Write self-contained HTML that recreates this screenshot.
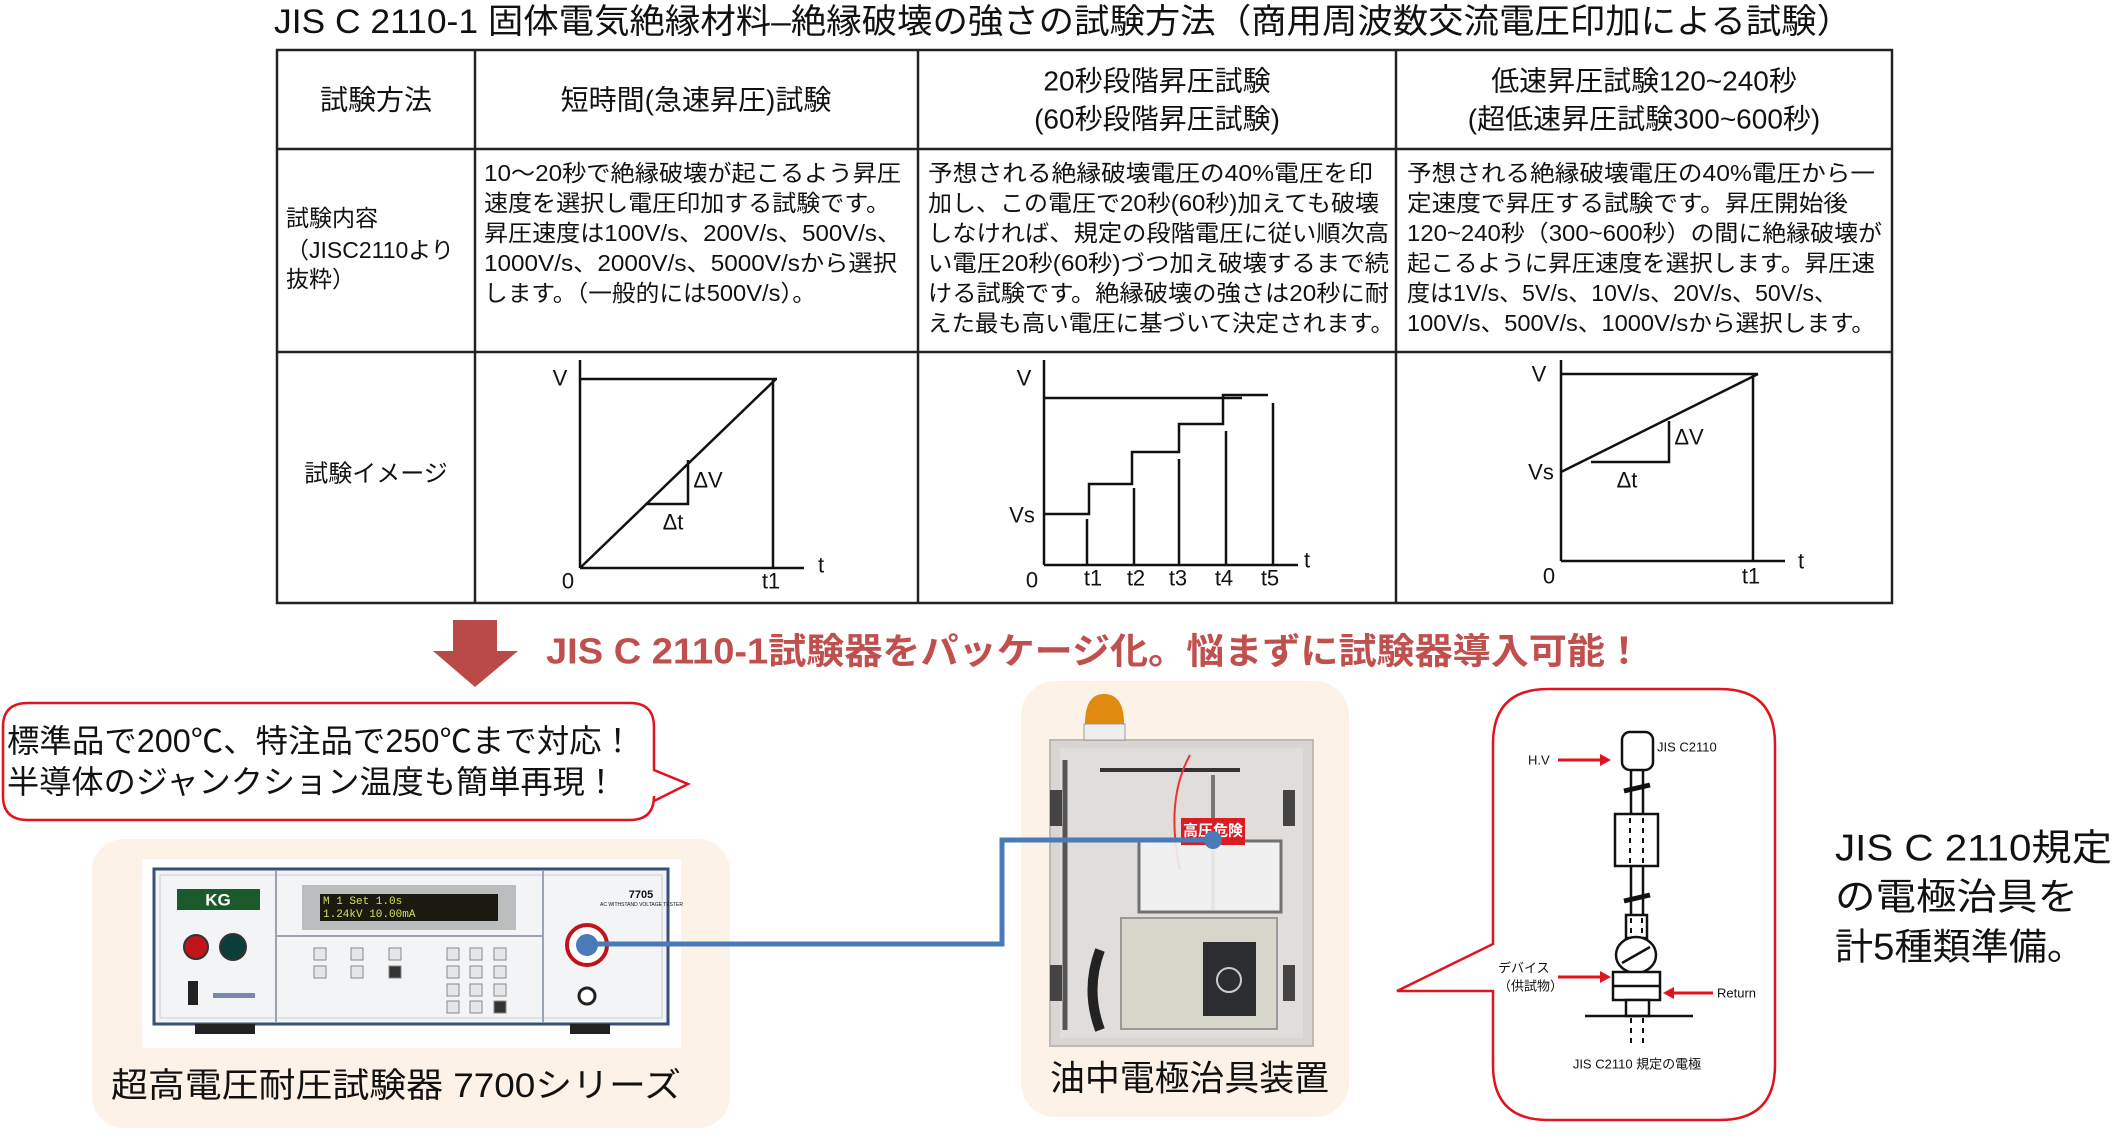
<!DOCTYPE html>
<html><head><meta charset="utf-8"><style>
html,body{margin:0;padding:0;background:#fff;}
svg{display:block;}
text{font-family:"Liberation Sans","Noto Sans CJK JP",sans-serif;fill:#111;}
</style></head><body>
<svg width="2115" height="1144" viewBox="0 0 2115 1144" xmlns="http://www.w3.org/2000/svg">
<!-- Title -->
<text x="274" y="22" font-size="34" dominant-baseline="central" textLength="1578" lengthAdjust="spacingAndGlyphs">JIS C 2110-1 固体電気絶縁材料–絶縁破壊の強さの試験方法（商用周波数交流電圧印加による試験）</text>

<!-- Table -->
<g stroke="#222" stroke-width="2.5" fill="none">
<rect x="277" y="50" width="1615" height="553"/>
<line x1="277" y1="149" x2="1892" y2="149"/>
<line x1="277" y1="352" x2="1892" y2="352"/>
<line x1="475" y1="50" x2="475" y2="603"/>
<line x1="918" y1="50" x2="918" y2="603"/>
<line x1="1396" y1="50" x2="1396" y2="603"/>
</g>
<g font-size="28" text-anchor="middle" dominant-baseline="central">
<text x="376" y="100" dominant-baseline="central">試験方法</text>
<text x="696" y="100" dominant-baseline="central">短時間(急速昇圧)試験</text>
<text x="1157" y="81" dominant-baseline="central">20秒段階昇圧試験</text>
<text x="1157" y="119" dominant-baseline="central">(60秒段階昇圧試験)</text>
<text x="1644" y="81" dominant-baseline="central">低速昇圧試験120~240秒</text>
<text x="1644" y="119" dominant-baseline="central">(超低速昇圧試験300~600秒)</text>
</g>
<g font-size="23" lengthAdjust="spacingAndGlyphs">
<text x="286" y="218" dominant-baseline="central">試験内容</text>
<text x="286" y="250" dominant-baseline="central">（JISC2110より</text>
<text x="286" y="279" dominant-baseline="central">抜粋）</text>

<text x="484" y="173" dominant-baseline="central" textLength="417" lengthAdjust="spacingAndGlyphs">10～20秒で絶縁破壊が起こるよう昇圧</text>
<text x="484" y="203" dominant-baseline="central" textLength="406" lengthAdjust="spacingAndGlyphs">速度を選択し電圧印加する試験です。</text>
<text x="484" y="233" dominant-baseline="central" textLength="417" lengthAdjust="spacingAndGlyphs">昇圧速度は100V/s、200V/s、500V/s、</text>
<text x="484" y="263" dominant-baseline="central" textLength="413" lengthAdjust="spacingAndGlyphs">1000V/s、2000V/s、5000V/sから選択</text>
<text x="484" y="293" dominant-baseline="central" textLength="332" lengthAdjust="spacingAndGlyphs">します。（一般的には500V/s）。</text>

<text x="928" y="173" dominant-baseline="central" textLength="445" lengthAdjust="spacingAndGlyphs">予想される絶縁破壊電圧の40%電圧を印</text>
<text x="928" y="203" dominant-baseline="central" textLength="451" lengthAdjust="spacingAndGlyphs">加し、この電圧で20秒(60秒)加えても破壊</text>
<text x="928" y="233" dominant-baseline="central" textLength="461" lengthAdjust="spacingAndGlyphs">しなければ、規定の段階電圧に従い順次高</text>
<text x="928" y="263" dominant-baseline="central" textLength="461" lengthAdjust="spacingAndGlyphs">い電圧20秒(60秒)づつ加え破壊するまで続</text>
<text x="928" y="293" dominant-baseline="central" textLength="461" lengthAdjust="spacingAndGlyphs">ける試験です。絶縁破壊の強さは20秒に耐</text>
<text x="928" y="323" dominant-baseline="central" textLength="466" lengthAdjust="spacingAndGlyphs">えた最も高い電圧に基づいて決定されます。</text>

<text x="1407" y="173" dominant-baseline="central" textLength="468" lengthAdjust="spacingAndGlyphs">予想される絶縁破壊電圧の40%電圧から一</text>
<text x="1407" y="203" dominant-baseline="central" textLength="441" lengthAdjust="spacingAndGlyphs">定速度で昇圧する試験です。昇圧開始後</text>
<text x="1407" y="233" dominant-baseline="central" textLength="475" lengthAdjust="spacingAndGlyphs">120~240秒（300~600秒）の間に絶縁破壊が</text>
<text x="1407" y="263" dominant-baseline="central" textLength="468" lengthAdjust="spacingAndGlyphs">起こるように昇圧速度を選択します。昇圧速</text>
<text x="1407" y="293" dominant-baseline="central" textLength="430" lengthAdjust="spacingAndGlyphs">度は1V/s、5V/s、10V/s、20V/s、50V/s、</text>
<text x="1407" y="323" dominant-baseline="central" textLength="468" lengthAdjust="spacingAndGlyphs">100V/s、500V/s、1000V/sから選択します。</text>
</g>
<text x="376" y="474" font-size="24" text-anchor="middle" dominant-baseline="central">試験イメージ</text>

<!-- Graph 1 -->
<g stroke="#111" stroke-width="2.5" fill="none">
<line x1="580" y1="360" x2="580" y2="568"/>
<line x1="580" y1="379" x2="777" y2="379"/>
<line x1="580" y1="568" x2="804" y2="568"/>
<line x1="580" y1="568" x2="776" y2="379"/>
<line x1="773" y1="379" x2="773" y2="568"/>
<polyline points="646,504 688,504 688,460"/>
</g>
<g font-size="22" dominant-baseline="central" text-anchor="middle">
<text x="560" y="378" dominant-baseline="central">V</text>
<text x="821" y="565" dominant-baseline="central">t</text>
<text x="568" y="581" dominant-baseline="central">0</text>
<text x="771" y="581" dominant-baseline="central">t1</text>
<text x="708" y="480" dominant-baseline="central">ΔV</text>
<text x="673" y="522" dominant-baseline="central">Δt</text>
</g>

<!-- Graph 2 -->
<g stroke="#111" stroke-width="2.5" fill="none">
<line x1="1044" y1="360" x2="1044" y2="565"/>
<line x1="1044" y1="398" x2="1242" y2="398"/>
<line x1="1044" y1="565" x2="1298" y2="565"/>
<polyline points="1044,514 1089,514 1089,484 1132,484 1132,452 1179,452 1179,424 1223,424 1223,395 1268,395"/>
<line x1="1087" y1="519" x2="1087" y2="565"/>
<line x1="1134" y1="488" x2="1134" y2="565"/>
<line x1="1179" y1="459" x2="1179" y2="565"/>
<line x1="1226" y1="431" x2="1226" y2="565"/>
<line x1="1273" y1="403" x2="1273" y2="565"/>
</g>
<g font-size="22" dominant-baseline="central" text-anchor="middle">
<text x="1024" y="378" dominant-baseline="central">V</text>
<text x="1022" y="515" dominant-baseline="central">Vs</text>
<text x="1307" y="560" dominant-baseline="central">t</text>
<text x="1032" y="580" dominant-baseline="central">0</text>
<text x="1093" y="578" dominant-baseline="central">t1</text>
<text x="1136" y="578" dominant-baseline="central">t2</text>
<text x="1178" y="578" dominant-baseline="central">t3</text>
<text x="1224" y="578" dominant-baseline="central">t4</text>
<text x="1270" y="578" dominant-baseline="central">t5</text>
</g>

<!-- Graph 3 -->
<g stroke="#111" stroke-width="2.5" fill="none">
<line x1="1561" y1="360" x2="1561" y2="561"/>
<line x1="1561" y1="374" x2="1758" y2="374"/>
<line x1="1561" y1="561" x2="1785" y2="561"/>
<line x1="1561" y1="472" x2="1758" y2="374"/>
<line x1="1753" y1="374" x2="1753" y2="561"/>
<polyline points="1591,462 1669,462 1669,421"/>
</g>
<g font-size="22" dominant-baseline="central" text-anchor="middle">
<text x="1539" y="374" dominant-baseline="central">V</text>
<text x="1541" y="472" dominant-baseline="central">Vs</text>
<text x="1801" y="561" dominant-baseline="central">t</text>
<text x="1549" y="576" dominant-baseline="central">0</text>
<text x="1751" y="576" dominant-baseline="central">t1</text>
<text x="1689" y="437" dominant-baseline="central">ΔV</text>
<text x="1627" y="480" dominant-baseline="central">Δt</text>
</g>

<!-- Down arrow & headline -->
<polygon points="453,620 497,620 497,651 518,651 475,687 433,651 453,651" fill="#b94a48"/>
<text x="546" y="651" font-size="36" font-weight="bold" fill="#c0504d" style="fill:#c0504d" dominant-baseline="central" textLength="1097" lengthAdjust="spacingAndGlyphs">JIS C 2110-1試験器をパッケージ化。悩まずに試験器導入可能！</text>

<!-- Callout -->
<path d="M28,703 H630 Q654,703 654,727 V770 L688,784 L654,801 V796 Q654,820 630,820 H28 Q3,820 3,796 V727 Q3,703 28,703 Z" fill="#fff" stroke="#e0141e" stroke-width="2.5"/>
<text x="7" y="741" font-size="32" dominant-baseline="central" textLength="627" lengthAdjust="spacingAndGlyphs">標準品で200℃、特注品で250℃まで対応！</text>
<text x="7" y="782" font-size="32" dominant-baseline="central" textLength="610" lengthAdjust="spacingAndGlyphs">半導体のジャンクション温度も簡単再現！</text>

<!-- Peach box 1 -->
<rect x="92" y="839" width="638" height="289" rx="32" fill="#fdf2e8"/>
<rect x="142" y="859" width="539" height="189" fill="#fff"/>
<rect x="154" y="869" width="514" height="155" fill="#f3f4f5" stroke="#3a4f78" stroke-width="3"/>
<rect x="160" y="875" width="502" height="143" fill="none" stroke="#c9ccd2" stroke-width="1"/>
<line x1="276" y1="871" x2="276" y2="1022" stroke="#9aa3b3" stroke-width="2"/>
<line x1="543" y1="871" x2="543" y2="1022" stroke="#9aa3b3" stroke-width="2"/>
<line x1="276" y1="936" x2="543" y2="936" stroke="#9aa3b3" stroke-width="2"/>
<rect x="177" y="889" width="83" height="21" fill="#1b5a2b"/>
<text x="218" y="900" font-size="17" font-weight="bold" text-anchor="middle" dominant-baseline="central" style="fill:#fff">KG</text>
<rect x="302" y="885" width="214" height="45" fill="#b9bdbe"/>
<rect x="320" y="894" width="178" height="27" fill="#1a1a10"/>
<text x="323" y="902" font-size="11" font-family="Liberation Mono" style="fill:#d8e060;font-family:'Liberation Mono',monospace" dominant-baseline="central">M 1 Set        1.0s</text>
<text x="323" y="915" font-size="11" style="fill:#d8e060;font-family:'Liberation Mono',monospace" dominant-baseline="central"> 1.24kV      10.00mA</text>
<text x="641" y="895" font-size="11" font-weight="bold" text-anchor="middle" dominant-baseline="central">7705</text>
<text x="600" y="905" font-size="5" dominant-baseline="central">AC WITHSTAND VOLTAGE TESTER</text>
<circle cx="196" cy="947" r="12" fill="#c0141a" stroke="#333" stroke-width="2"/>
<circle cx="233" cy="947" r="13" fill="#0d3d3a" stroke="#333" stroke-width="2"/>
<rect x="188" y="981" width="10" height="24" fill="#222"/>
<rect x="213" y="993" width="42" height="5" fill="#7a88a8"/>
<g fill="#e4e6e8" stroke="#888" stroke-width="1">
<rect x="314" y="948" width="12" height="12"/><rect x="351" y="948" width="12" height="12"/><rect x="389" y="948" width="12" height="12"/>
<rect x="314" y="966" width="12" height="12"/><rect x="351" y="966" width="12" height="12"/><rect x="389" y="966" width="12" height="12" fill="#333"/>
<rect x="447" y="948" width="12" height="12"/><rect x="470" y="948" width="12" height="12"/><rect x="494" y="948" width="12" height="12"/>
<rect x="447" y="966" width="12" height="12"/><rect x="470" y="966" width="12" height="12"/><rect x="494" y="966" width="12" height="12"/>
<rect x="447" y="984" width="12" height="12"/><rect x="470" y="984" width="12" height="12"/><rect x="494" y="984" width="12" height="12"/>
<rect x="447" y="1001" width="12" height="12"/><rect x="470" y="1001" width="12" height="12"/><rect x="494" y="1001" width="12" height="12" fill="#333"/>
</g>
<circle cx="587" cy="945" r="20" fill="#fff" stroke="#c0141a" stroke-width="4"/>
<circle cx="587" cy="996" r="8" fill="#fff" stroke="#222" stroke-width="3"/>
<rect x="195" y="1024" width="60" height="10" fill="#222"/>
<rect x="570" y="1024" width="40" height="10" fill="#222"/>
<text x="111" y="1086" font-size="34" dominant-baseline="central" textLength="570" lengthAdjust="spacingAndGlyphs">超高電圧耐圧試験器 7700シリーズ</text>

<!-- Peach box 2 -->
<rect x="1021" y="681" width="328" height="436" rx="34" fill="#fdf2e8"/>
<rect x="1050" y="740" width="263" height="306" fill="#d8d5d2" stroke="#bdb9b5" stroke-width="2"/>
<rect x="1060" y="748" width="243" height="290" fill="#e2dfdc" opacity="0.8"/>
<path d="M1085,724 Q1085,694 1104,694 Q1124,694 1124,724 Z" fill="#e08a10"/>
<rect x="1084" y="724" width="41" height="16" fill="#eee" stroke="#999"/>
<line x1="1065" y1="760" x2="1065" y2="1030" stroke="#555" stroke-width="5"/>
<line x1="1100" y1="770" x2="1240" y2="770" stroke="#333" stroke-width="4"/>
<path d="M1190,755 Q1165,800 1180,870" fill="none" stroke="#e33" stroke-width="2"/>
<line x1="1213" y1="775" x2="1213" y2="910" stroke="#777" stroke-width="4"/>
<rect x="1139" y="841" width="142" height="71" fill="#f3f3f3" stroke="#666" stroke-width="3" opacity="0.9"/>
<rect x="1181" y="818" width="64" height="27" fill="#d81e24"/>
<text x="1213" y="831" font-size="15" font-weight="bold" text-anchor="middle" dominant-baseline="central" style="fill:#fff">高圧危険</text>
<rect x="1121" y="918" width="156" height="111" fill="#d6d6ca" stroke="#999" stroke-width="2"/>
<rect x="1203" y="942" width="53" height="74" fill="#2b2d30"/>
<circle cx="1229" cy="980" r="12" fill="none" stroke="#ccc" stroke-width="2"/>
<rect x="1050" y="790" width="12" height="36" fill="#444"/><rect x="1050" y="965" width="12" height="36" fill="#444"/>
<rect x="1283" y="790" width="12" height="36" fill="#444"/><rect x="1283" y="965" width="12" height="36" fill="#444"/>
<path d="M1100,950 Q1085,990 1100,1030" fill="none" stroke="#222" stroke-width="10"/>
<text x="1050" y="1079" font-size="35" dominant-baseline="central" textLength="279" lengthAdjust="spacingAndGlyphs">油中電極治具装置</text>

<!-- Blue connection -->
<polyline points="587,944 1002,944 1002,840 1213,840" fill="none" stroke="#4a7ab8" stroke-width="5"/>
<circle cx="587" cy="945" r="11" fill="#4a7ab8"/>
<circle cx="1213" cy="840" r="9" fill="#4a7ab8"/>

<!-- Electrode callout -->
<path d="M1548,689 H1720 Q1775,689 1775,744 V1065 Q1775,1120 1720,1120 H1548 Q1493,1120 1493,1065 V991 H1397 L1493,944 V744 Q1493,689 1548,689 Z" fill="#fff" stroke="#e0141e" stroke-width="2.5"/>
<g stroke="#111" stroke-width="2.5" fill="#fff">
<line x1="1631" y1="770" x2="1631" y2="915"/><line x1="1643" y1="770" x2="1643" y2="915"/>
<rect x="1622" y="732" width="31" height="38" rx="8"/>
<rect x="1615" y="814" width="43" height="52"/>
<rect x="1626" y="915" width="21" height="23"/>
<ellipse cx="1636" cy="955" rx="20" ry="18"/>
<line x1="1622" y1="963" x2="1650" y2="947"/>
<rect x="1613" y="972" width="47" height="28"/>
<line x1="1613" y1="986" x2="1660" y2="986"/>
<rect x="1626" y="1000" width="23" height="16"/>
<line x1="1585" y1="1016" x2="1693" y2="1016"/>
<line x1="1624" y1="791" x2="1650" y2="785" stroke-width="5"/>
<line x1="1624" y1="901" x2="1650" y2="895" stroke-width="5"/>
</g>
<g stroke="#111" stroke-width="2" stroke-dasharray="5,5">
<line x1="1630" y1="818" x2="1630" y2="864"/><line x1="1643" y1="818" x2="1643" y2="864"/>
<line x1="1631" y1="918" x2="1631" y2="936"/><line x1="1642" y1="918" x2="1642" y2="936"/>
<line x1="1631" y1="1018" x2="1631" y2="1046"/><line x1="1643" y1="1018" x2="1643" y2="1046"/>
</g>
<g stroke="#e0141e" stroke-width="3" fill="#e0141e">
<line x1="1558" y1="760" x2="1600" y2="760"/><polygon points="1600,754 1611,760 1600,766" stroke="none"/>
<line x1="1558" y1="977" x2="1600" y2="977"/><polygon points="1600,971 1611,977 1600,983" stroke="none"/>
<line x1="1674" y1="993" x2="1713" y2="993"/><polygon points="1674,987 1663,993 1674,999" stroke="none"/>
</g>
<g font-size="13" dominant-baseline="central">
<text x="1657" y="747" dominant-baseline="central">JIS C2110</text>
<text x="1528" y="760" dominant-baseline="central">H.V</text>
<text x="1498" y="968" dominant-baseline="central">デバイス</text>
<text x="1498" y="986" dominant-baseline="central">（供試物）</text>
<text x="1717" y="993" dominant-baseline="central">Return</text>
<text x="1637" y="1064" text-anchor="middle" dominant-baseline="central">JIS C2110 規定の電極</text>
</g>

<!-- Right text -->
<g font-size="37">
<text x="1835" y="848" dominant-baseline="central" textLength="277" lengthAdjust="spacingAndGlyphs">JIS C 2110規定</text>
<text x="1835" y="897" dominant-baseline="central" textLength="243" lengthAdjust="spacingAndGlyphs">の電極治具を</text>
<text x="1835" y="947" dominant-baseline="central" textLength="250" lengthAdjust="spacingAndGlyphs">計5種類準備。</text>
</g>
</svg>
</body></html>
